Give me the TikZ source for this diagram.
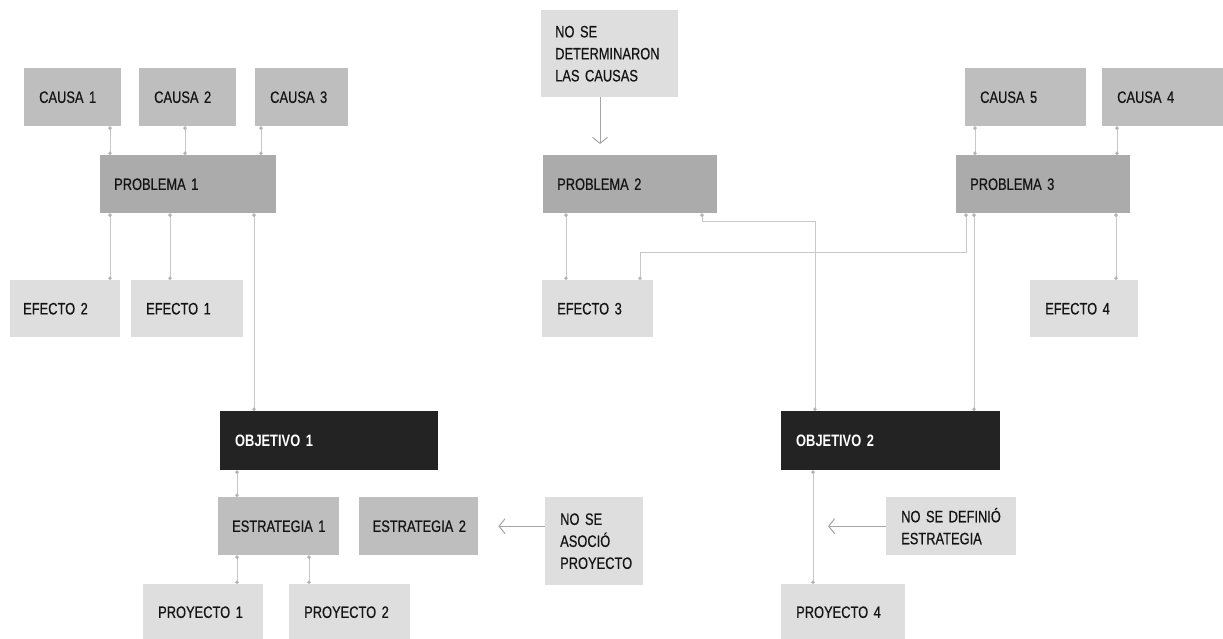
\documentclass[tikz,border=0pt]{standalone}
\usepackage{fontspec}
\setmainfont{Liberation Sans}[FakeStretch=0.78]
\newfontfamily\boxfont{Liberation Sans}[FakeStretch=0.78,FakeBold=0.5]
\usetikzlibrary{arrows.meta,calc}
\definecolor{midg}{HTML}{BEBEBE}
\definecolor{probg}{HTML}{ABABAB}
\definecolor{lightg}{HTML}{DEDEDE}
\definecolor{darkg}{HTML}{232323}
\definecolor{lineg}{HTML}{C8C8C8}
\definecolor{dotg}{HTML}{B4B4B4}
\definecolor{arrg}{HTML}{A6A6A6}
\definecolor{txt}{HTML}{141414}
\begin{document}
\begin{tikzpicture}[x=1pt,y=-1pt,
  box/.style={anchor=north west, inner xsep=15pt, inner ysep=0pt, align=left,
    font=\boxfont\fontsize{16.5}{22}\selectfont, text=txt},
  causa/.style={box, fill=midg, minimum height=58pt},
  prob/.style={box, fill=probg, minimum height=58pt},
  efecto/.style={box, fill=lightg, minimum height=57pt},
  obj/.style={box, fill=darkg, text=white, minimum height=59pt, font=\fontsize{16.5}{22}\selectfont\bfseries},
  note/.style={box, fill=lightg},
  conn/.style={draw=lineg, line width=0.9pt,
    {Circle[length=3.5pt,color=dotg]}-{Circle[length=3.5pt,color=dotg]}},
  arr/.style={draw=arrg, line width=1pt, -{Straight Barb[length=6pt,width=15pt]}}]
\useasboundingbox (0,0) rectangle (1223,639);

% causes
\node[causa, text width=67pt] (c1) at (24,68) {CAUSA~1};
\node[causa, text width=67pt] (c2) at (139,68) {CAUSA~2};
\node[causa, text width=63pt] (c3) at (255,68) {CAUSA~3};
\node[causa, text width=91pt] (c5) at (965,68) {CAUSA~5};
\node[causa, text width=91pt] (c4) at (1102,68) {CAUSA~4};
\node[note, text width=109pt, minimum height=87pt, inner xsep=14pt] (nsd) at (541,10) {NO~SE\\DETERMINARON\\LAS~CAUSAS};

% problems
\node[prob, text width=148pt, inner xsep=14pt] (p1) at (100,155) {PROBLEMA~1};
\node[prob, text width=146pt, inner xsep=14pt] (p2) at (543,155) {PROBLEMA~2};
\node[prob, text width=146pt, inner xsep=14pt] (p3) at (956,155) {PROBLEMA~3};

% effects
\node[efecto, text width=84pt, inner xsep=13pt] (e2) at (10,280) {EFECTO~2};
\node[efecto, text width=82pt] (e1) at (131,280) {EFECTO~1};
\node[efecto, text width=81pt] (e3) at (542,280) {EFECTO~3};
\node[efecto, text width=78pt] (e4) at (1030,280) {EFECTO~4};

% objectives
\node[obj, text width=188pt] (o1) at (220,411) {OBJETIVO~1};
\node[obj, text width=189pt] (o2) at (781,411) {OBJETIVO~2};

% strategies
\node[causa, text width=93pt, inner xsep=14pt] (s1) at (218,497) {ESTRATEGIA~1};
\node[causa, text width=92pt, inner xsep=13.5pt] (s2) at (359,497) {ESTRATEGIA~2};
\node[note, text width=68pt, minimum height=88pt] (nsa) at (545,497) {NO~SE\\ASOCIÓ\\PROYECTO};
\node[note, text width=100pt, minimum height=58pt] (nsdef) at (886,497) {NO~SE~DEFINIÓ\\ESTRATEGIA};

% projects
\node[efecto, text width=90pt, minimum height=56pt] (pr1) at (143,584) {PROYECTO~1};
\node[efecto, text width=91pt, minimum height=56pt] (pr2) at (289,584) {PROYECTO~2};
\node[efecto, text width=94pt, minimum height=56pt] (pr4) at (781,584) {PROYECTO~4};

% causes -> problems
\draw[conn] ($(c1.south west)+(86,0)$) coordinate (t) -- (t |- p1.north);
\draw[conn] ($(c2.south west)+(46,0)$) coordinate (t) -- (t |- p1.north);
\draw[conn] ($(c3.south west)+(6,0)$) coordinate (t) -- (t |- p1.north);
\draw[conn] ($(c5.south west)+(10,0)$) coordinate (t) -- (t |- p3.north);
\draw[conn] ($(c4.south west)+(15,0)$) coordinate (t) -- (t |- p3.north);
\draw[arr, shorten >=11pt] ($(nsd.south west)+(59,0)$) coordinate (t) -- (t |- p2.north);

% problems -> effects
\draw[conn] ($(p1.south west)+(10,0)$) coordinate (t) -- (t |- e2.north);
\draw[conn] ($(p1.south west)+(70,0)$) coordinate (t) -- (t |- e1.north);
\draw[conn] ($(p2.south west)+(23,0)$) coordinate (t) -- (t |- e3.north);
\draw[conn] ($(p3.south west)+(160,0)$) coordinate (t) -- (t |- e4.north);
\draw[conn] ($(p3.south west)+(10,0)$) coordinate (t) -- ++(0,39) -| ($(e3.north west)+(98,0)$);

% problems -> objectives
\draw[conn] ($(p1.south west)+(154,0)$) coordinate (t) -- (t |- o1.north);
\draw[conn] ($(p2.south west)+(159,0)$) -- ++(0,8) -| ($(o2.north west)+(34,0)$);
\draw[conn] ($(p3.south west)+(18,0)$) coordinate (t) -- (t |- o2.north);

% objectives -> strategies / projects
\draw[conn] ($(o1.south west)+(17,0)$) coordinate (t) -- (t |- s1.north);
\draw[conn] ($(s1.south west)+(19,0)$) coordinate (t) -- (t |- pr1.north);
\draw[conn] ($(s1.south west)+(91,0)$) coordinate (t) -- (t |- pr2.north);
\draw[conn] ($(o2.south west)+(32,0)$) coordinate (t) -- (t |- pr4.north);

% notes
\draw[arr, shorten >=20pt] (nsa.west |- s2.east) -- (s2.east);
\draw[arr, shorten >=15pt] (nsdef.west) -- (t |- nsdef.west);
\end{tikzpicture}
\end{document}
